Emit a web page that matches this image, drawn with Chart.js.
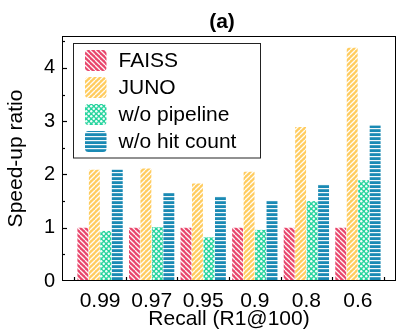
<!DOCTYPE html>
<html>
<head>
<meta charset="utf-8">
<script src="https://cdn.jsdelivr.net/npm/chart.js@4/dist/chart.umd.min.js"></script>
<style>
  html, body { margin: 0; padding: 0; background: #fff; }
  #c { display: block; }
</style>
</head>
<body>
<canvas id="c" width="407" height="332"></canvas>
<script>
// data
const recallLabels = ['0.99', '0.97', '0.95', '0.9', '0.8', '0.6'];
const faiss = [1, 1, 1, 1, 1, 1];
const juno = [2.09, 2.11, 1.83, 2.05, 2.89, 4.38];
const noPipeline = [0.94, 1.01, 0.82, 0.96, 1.50, 1.89];
const noHitCount = [2.09, 1.65, 1.59, 1.51, 1.81, 2.92];
const seriesNames = ['FAISS', 'JUNO', 'w/o pipeline', 'w/o hit count'];
const yTicks = [0, 1, 2, 3, 4];

const FONT = '"Liberation Sans", Arial, Helvetica, sans-serif';

// hatch patterns
function makePattern(kind, color) {
  const s = kind === 'h' ? 4 : 5;
  const cv = document.createElement('canvas');
  cv.width = s; cv.height = s;
  const g = cv.getContext('2d');
  g.fillStyle = color;
  g.fillRect(0, 0, s, s);
  g.strokeStyle = 'rgba(255,255,255,0.95)';
  g.fillStyle = 'rgba(255,255,255,0.95)';
  g.lineWidth = 1.3;
  if (kind === 'back') {
    for (let k = -1; k <= 1; k++) {
      g.beginPath(); g.moveTo(k * s, 0); g.lineTo(k * s + s, s); g.stroke();
    }
  } else if (kind === 'fwd') {
    for (let k = -1; k <= 1; k++) {
      g.beginPath(); g.moveTo(k * s, s); g.lineTo(k * s + s, 0); g.stroke();
    }
  } else if (kind === 'dots') {
    g.beginPath(); g.arc(1.25, 1.25, 1.2, 0, Math.PI * 2); g.fill();
    g.beginPath(); g.arc(3.75, 3.75, 1.2, 0, Math.PI * 2); g.fill();
  } else if (kind === 'h') {
    g.fillRect(0, 0, s, 1.2);
  }
  return g.createPattern(cv, 'repeat');
}

const ctx = document.getElementById('c').getContext('2d');
const patterns = [
  makePattern('back', '#E8456B'),
  makePattern('fwd', '#FFCC5E'),
  makePattern('dots', '#27D49E'),
  makePattern('h', '#1A8AB4')
];
const allSeries = [faiss, juno, noPipeline, noHitCount];

const frameAndLegend = {
  id: 'frameAndLegend',
  afterDraw(chart) {
    const c = chart.ctx;
    const a = chart.chartArea;
    const xs = chart.scales.x, ys = chart.scales.y;
    c.save();
    c.strokeStyle = '#000';
    c.lineWidth = 1;
    c.strokeRect(Math.round(a.left) + 0.5, Math.round(a.top) + 0.5,
      Math.round(a.right - a.left) - 1, Math.round(a.bottom - a.top) - 1);
    c.lineWidth = 1.2;
    // x tick marks between groups
    for (let i = 0; i <= recallLabels.length; i++) {
      const px = Math.round(xs.getPixelForValue(i - 0.5)) + 0.5;
      c.beginPath(); c.moveTo(px, a.bottom); c.lineTo(px, a.bottom - 4); c.stroke();
    }
    // y tick marks, major and minor
    for (let v = 0.5; v <= 4.5; v += 0.5) {
      const py = Math.round(ys.getPixelForValue(v)) + 0.5;
      const len = Number.isInteger(v) ? 5 : 3;
      c.beginPath(); c.moveTo(a.left, py); c.lineTo(a.left + len, py); c.stroke();
    }
    // title
    c.fillStyle = '#000';
    c.font = 'bold 21px ' + FONT;
    c.textAlign = 'center';
    c.textBaseline = 'middle';
    c.fillText('(a)', 222, 22);
    // legend
    c.fillStyle = '#fff';
    c.fillRect(73.5, 43.5, 187, 114.5);
    c.lineWidth = 1;
    c.strokeStyle = '#222';
    c.strokeRect(73.5, 43.5, 187, 114.5);
    c.font = '21px ' + FONT;
    c.textAlign = 'left';
    seriesNames.forEach((name, i) => {
      const y0 = 50 + 27 * i;
      c.fillStyle = patterns[i];
      c.beginPath();
      c.roundRect(85, y0, 21.5, 21, 3.5);
      c.fill();
      c.fillStyle = '#000';
      c.fillText(name, 118.5, y0 + 11.5);
    });
    c.restore();
  }
};

new Chart(ctx, {
  type: 'bar',
  data: {
    datasets: allSeries.map((vals, i) => ({
      label: seriesNames[i],
      data: vals.map((v, j) => ({ x: j, y: v })),
      backgroundColor: patterns[i],
      borderWidth: 0,
      categoryPercentage: 0.89,
      barPercentage: 0.95
    }))
  },
  options: {
    responsive: false,
    animation: false,
    events: [],
    layout: { padding: { top: 36, right: 11, left: 0, bottom: 0 } },
    plugins: {
      legend: { display: false },
      title: { display: false },
      tooltip: { enabled: false }
    },
    scales: {
      x: {
        type: 'linear',
        offset: false,
        min: -0.738,
        max: 5.738,
        afterBuildTicks: s => { s.ticks = recallLabels.map((_, i) => ({ value: i })); },
        afterFit: s => { s.height = 51; },
        grid: { display: false, drawTicks: false, offset: false },
        border: { display: false },
        ticks: {
          autoSkip: false,
          maxRotation: 0,
          padding: 8,
          color: '#000',
          font: { family: FONT, size: 21 },
          callback: v => recallLabels[v]
        },
        title: {
          display: true,
          text: 'Recall (R1@100)',
          color: '#000',
          font: { family: FONT, size: 21 },
          padding: { top: 0, bottom: 0 }
        }
      },
      y: {
        min: 0,
        max: 4.6,
        afterBuildTicks: s => { s.ticks = yTicks.map(v => ({ value: v })); },
        afterFit: s => { s.width = 62; },
        grid: { display: false, drawTicks: false },
        border: { display: false },
        ticks: {
          padding: 7,
          color: '#000',
          font: { family: FONT, size: 20 },
          callback: v => String(v)
        },
        title: {
          display: true,
          text: 'Speed-up ratio',
          color: '#000',
          font: { family: FONT, size: 21 },
          padding: { top: 4, bottom: 0 }
        }
      }
    }
  },
  plugins: [frameAndLegend]
});
</script>
</body>
</html>
